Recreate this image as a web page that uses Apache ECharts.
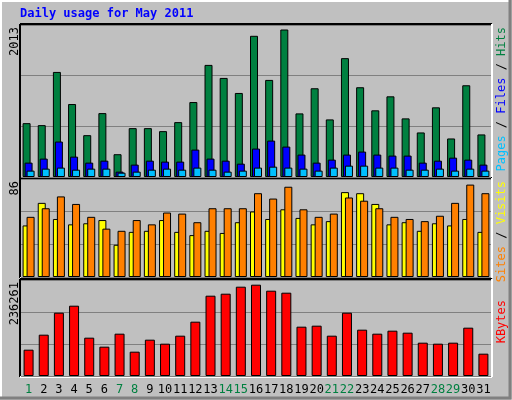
<!DOCTYPE html>
<html><head><meta charset="utf-8">
<script src="https://cdn.jsdelivr.net/npm/echarts@6/dist/echarts.min.js"></script>
<style>html,body{margin:0;padding:0;background:#c0c0c0}#c{width:512px;height:400px}</style>
</head><body><div id="c"></div>
<script>
const days = Array.from({length:31},(_,i)=>String(i+1));
const weekend = [1,7,8,14,15,21,22,28,29];
const hits = [735,708,1434,996,571,872,311,667,667,626,749,1023,1530,1352,1147,1927,1325,2013,868,1211,786,1622,1225,910,1101,800,608,951,526,1252,581];
const files = [196,251,484,278,196,223,73,169,223,210,210,374,251,223,182,388,497,415,306,196,237,306,347,306,292,292,196,223,264,237,169];
const pages = [87,114,128,100,114,114,59,73,100,114,100,128,100,73,87,128,141,128,114,87,128,155,155,128,128,100,100,114,87,114,87];
const sites = [48,69,54,49,50,53,30,42,43,53,42,39,43,41,51,61,54,63,55,49,52,79,78,68,49,51,43,50,48,54,42];
const visits = [56,64,75,68,56,45,43,53,49,60,59,51,64,64,64,78,73,84,63,56,59,74,71,64,56,54,52,57,69,86,78];
const kbytes = [68120,106925,163830,181950,99160,75880,109510,62950,93990,83640,104340,140550,207810,212980,231090,236261,220740,215570,127620,130200,104340,163830,119860,109510,117270,112100,86230,83640,86230,125030,57770];
const maxTop = 2013, maxMid = 86, maxBot = 236261;

const ch = echarts.init(document.getElementById('c'));
const grids = [
  {left:21,right:21,top:25,height:152},
  {left:21,right:21,top:179,height:98},
  {left:21,right:21,top:280,height:96}
];
const axMax = [maxTop*152/147.5, maxMid*98/92.4, maxBot*96/91.3];
const bs = {borderColor:'#000',borderWidth:1};
const ft = 'DejaVu Sans Mono, monospace';
function panelBorder(g){
  const x=g.left, y=g.top, w=512-g.left-g.right, h=g.height;
  return [
    {type:'line',shape:{x1:x-1,y1:y-1,x2:x+w+1,y2:y-1},style:{stroke:'#000',lineWidth:2}},
    {type:'line',shape:{x1:x-1,y1:y-1,x2:x-1,y2:y+h+1},style:{stroke:'#000',lineWidth:2}},
    {type:'line',shape:{x1:x-1,y1:y+h+1,x2:x+w+1,y2:y+h+1},style:{stroke:'#fff',lineWidth:2}},
    {type:'line',shape:{x1:x+w+1,y1:y-1,x2:x+w+1,y2:y+h+1},style:{stroke:'#fff',lineWidth:2}}
  ];
}
function vtext(x,y,parts){
  // rotated text reading bottom-to-top; parts: [[text,color],...]
  return {type:'text',x:x,y:y,rotation:Math.PI/2,style:{rich:Object.fromEntries(parts.map((p,i)=>['s'+i,{fill:p[1],font:'12px '+ft}])),text:parts.map((p,i)=>'{s'+i+'|'+p[0]+'}').join(''),textAlign:'right',textVerticalAlign:'top',font:'12px '+ft}};
}
ch.setOption({
  animation:false,
  backgroundColor:'#c0c0c0',
  grid:grids,
  xAxis:[0,1,2].map(i=>({type:'category',gridIndex:i,data:days,axisLine:{show:false},axisTick:{show:false},
    axisLabel:{show:i===2,interval:0,margin:8,fontFamily:ft,fontSize:12,
      color:(v)=>weekend.includes(+v)?'#008040':'#000'}})),
  yAxis:[0,1,2].map(i=>({type:'value',gridIndex:i,min:0,max:axMax[i],interval:axMax[i]/3,
    axisLabel:{show:false},axisLine:{show:false},axisTick:{show:false},
    splitLine:{lineStyle:{color:'#808080',width:1}}})),
  series:[
    {type:'bar',xAxisIndex:0,yAxisIndex:0,data:hits,barWidth:8,barGap:'-75%',itemStyle:{color:'#008040',...bs}},
    {type:'bar',xAxisIndex:0,yAxisIndex:0,data:files,barWidth:8,barGap:'-75%',itemStyle:{color:'#0000ff',...bs}},
    {type:'bar',xAxisIndex:0,yAxisIndex:0,data:pages,barWidth:8,barGap:'-75%',itemStyle:{color:'#00c0ff',...bs}},
    {type:'bar',xAxisIndex:1,yAxisIndex:1,data:sites,barWidth:8,barGap:'-50%',itemStyle:{color:'#ffff00',...bs}},
    {type:'bar',xAxisIndex:1,yAxisIndex:1,data:visits,barWidth:8,barGap:'-50%',itemStyle:{color:'#ff8000',...bs}},
    {type:'bar',xAxisIndex:2,yAxisIndex:2,data:kbytes,barWidth:10,itemStyle:{color:'#ff0000',...bs}}
  ],
  graphic:[
    {type:'line',shape:{x1:0,y1:1,x2:511,y2:1},style:{stroke:'#fff',lineWidth:2}},
    {type:'line',shape:{x1:1,y1:0,x2:1,y2:399},style:{stroke:'#fff',lineWidth:2}},
    {type:'line',shape:{x1:0,y1:398,x2:511,y2:398},style:{stroke:'#808080',lineWidth:3}},
    {type:'line',shape:{x1:510,y1:0,x2:510,y2:399},style:{stroke:'#808080',lineWidth:3}},
    {type:'text',x:20,y:8,style:{text:'Daily usage for May 2011',fill:'#0000ff',font:'bold 12px '+ft}},
    ...panelBorder(grids[0]),...panelBorder(grids[1]),...panelBorder(grids[2]),
    vtext(9,27,[[String(maxTop),'#000']]),
    vtext(9,181,[[String(maxMid),'#000']]),
    vtext(9,282,[[String(maxBot),'#000']]),
    vtext(496,27,[['Pages','#00c0ff'],[' / ','#000'],['Files','#0000ff'],[' / ','#000'],['Hits','#008040']]),
    vtext(496,181,[['Sites','#ff8000'],[' / ','#000'],['Visits','#ffff00']]),
    vtext(496,300,[['KBytes','#ff0000']])
  ]
});
</script></body></html>
